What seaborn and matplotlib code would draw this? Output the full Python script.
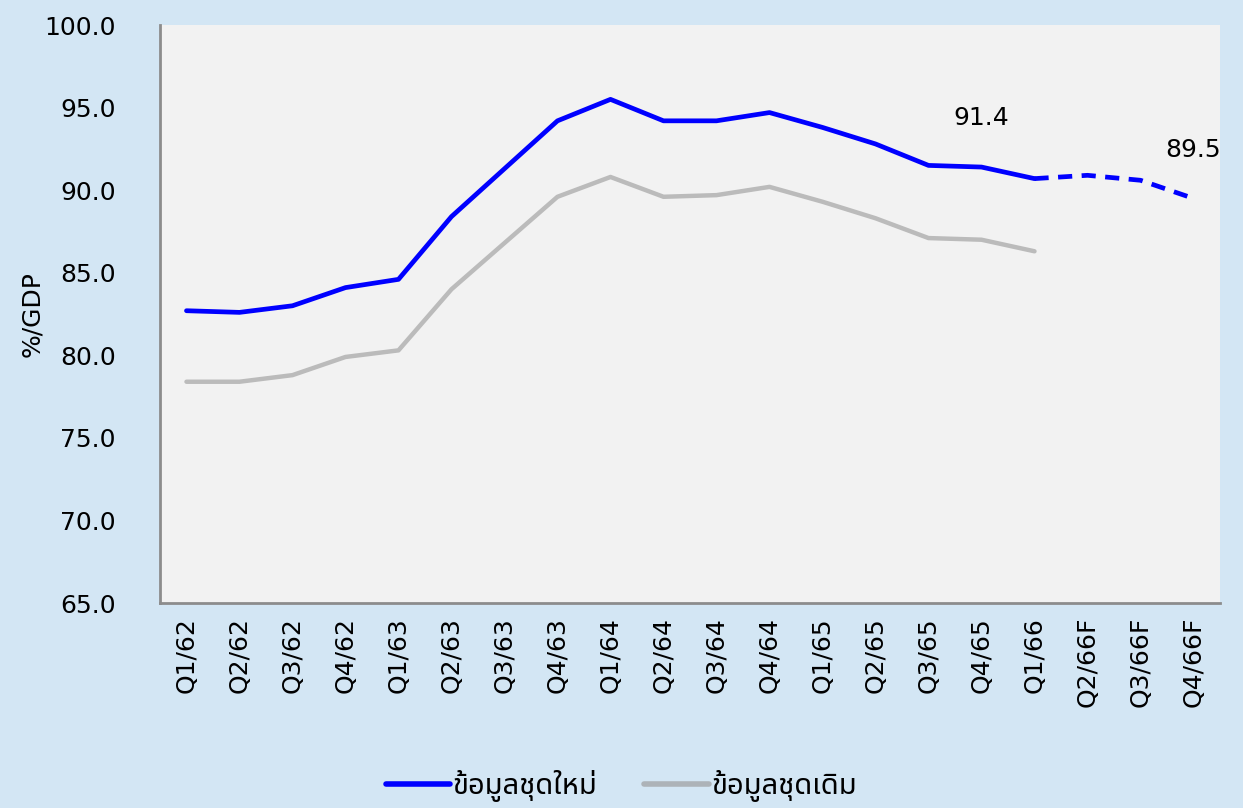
import matplotlib
matplotlib.use("Agg")
import matplotlib.pyplot as plt
from matplotlib import font_manager
from matplotlib.ft2font import FT2Font
from matplotlib.lines import Line2D
import numpy as np
import pandas as pd
import seaborn as sns

# DATA
quarters = ['Q1/62', 'Q2/62', 'Q3/62', 'Q4/62', 'Q1/63', 'Q2/63', 'Q3/63', 'Q4/63',
            'Q1/64', 'Q2/64', 'Q3/64', 'Q4/64', 'Q1/65', 'Q2/65', 'Q3/65', 'Q4/65',
            'Q1/66', 'Q2/66F', 'Q3/66F', 'Q4/66F']
new_actual = [82.7, 82.6, 83.0, 84.1, 84.6, 88.4, 91.3, 94.2, 95.5, 94.2, 94.2, 94.7,
              93.8, 92.8, 91.5, 91.4, 90.7]
new_forecast = [90.7, 90.9, 90.6, 89.5]
old_series = [78.4, 78.4, 78.8, 79.9, 80.3, 84.0, 86.8, 89.6, 90.8, 89.6, 89.7, 90.2,
              89.3, 88.3, 87.1, 87.0, 86.3]
label_new = 'ข้อมูลชุดใหม่'
label_old = 'ข้อมูลชุดเดิม'
annotations = {'Q4/65': 91.4, 'Q4/66F': 89.5}


def find_thai_family():
    # look for any installed font that has Thai glyphs
    need = [ord(c) for c in set(label_new + label_old)]
    found = []
    for f in font_manager.fontManager.ttflist:
        try:
            cmap = FT2Font(f.fname).get_charmap()
        except Exception:
            continue
        if all(c in cmap for c in need):
            found.append(f.name)
    for pref in ['Noto Sans Thai', 'Noto Sans Thai UI', 'Loma', 'Garuda', 'Sarabun']:
        if pref in found:
            return pref
    return found[0] if found else None


sns.set_theme(style='white')
thai = find_thai_family()
families = ['DejaVu Sans'] + ([thai] if thai else [])
plt.rcParams['font.family'] = families
plt.rcParams['text.color'] = 'black'
plt.rcParams['axes.labelcolor'] = 'black'
plt.rcParams['xtick.labelcolor'] = 'black'
plt.rcParams['ytick.labelcolor'] = 'black'

BG = '#D3E6F4'
PLOT_BG = '#F2F2F2'
BLUE = '#0000FF'
GREY = '#BBBBBB'
FS = 18

n_act = len(new_actual)
df_new = pd.DataFrame({'pos': np.arange(n_act), 'val': new_actual})
df_fc = pd.DataFrame({'pos': np.arange(n_act - 1, n_act - 1 + len(new_forecast)), 'val': new_forecast})
df_old = pd.DataFrame({'pos': np.arange(len(old_series)), 'val': old_series})

fig = plt.figure(figsize=(12.43, 8.08), dpi=100, facecolor=BG)
ax = fig.add_axes([0.1287, 0.2537, 0.8528, 0.7153])
ax.set_facecolor(PLOT_BG)

sns.lineplot(data=df_old, x='pos', y='val', ax=ax, color=GREY, lw=3.2)
sns.lineplot(data=df_new, x='pos', y='val', ax=ax, color=BLUE, lw=3.4)
sns.lineplot(data=df_fc, x='pos', y='val', ax=ax, color=BLUE, lw=3.4, linestyle=(0, (3, 2)))

for q, v in annotations.items():
    ax.text(quarters.index(q), v + 2.95, f'{v:.1f}', ha='center', va='center', fontsize=FS)

ax.set_xlim(-0.5, len(quarters) - 0.5)
ax.set_ylim(65, 100)
ax.set_yticks(np.arange(65, 100.1, 5))
ax.set_yticklabels([f'{t:.1f}' for t in np.arange(65, 100.1, 5)], fontsize=FS)
ax.set_xticks(np.arange(-0.5, len(quarters), 1))
ax.set_xticklabels([])
ax.set_xticks(np.arange(len(quarters)), minor=True)
ax.set_xticklabels(quarters, minor=True, rotation=90, fontsize=FS)
ax.tick_params(axis='x', which='major', length=10, width=2, color='#8C8C8C', direction='out')
ax.tick_params(axis='x', which='minor', length=0, pad=10)
ax.tick_params(axis='y', length=10, width=2, color='#8C8C8C', direction='out', pad=22)
ax.set_xlabel('')
ax.set_ylabel('%/GDP', fontsize=FS, labelpad=0)

for s in ['top', 'right']:
    ax.spines[s].set_visible(False)
for s in ['left', 'bottom']:
    ax.spines[s].set_color('#8C8C8C')
    ax.spines[s].set_linewidth(2)

handles = [Line2D([], [], color=BLUE, lw=4), Line2D([], [], color='#ADB3B8', lw=4)]
fig.legend(handles, [label_new, label_old], loc='lower center', bbox_to_anchor=(0.5, -0.025),
           ncol=2, frameon=False, handlelength=2.2, handletextpad=0.1, columnspacing=1.6,
           prop={'size': 21, 'weight': 'bold'})

fig.savefig('out.png', dpi=100, facecolor=BG)
